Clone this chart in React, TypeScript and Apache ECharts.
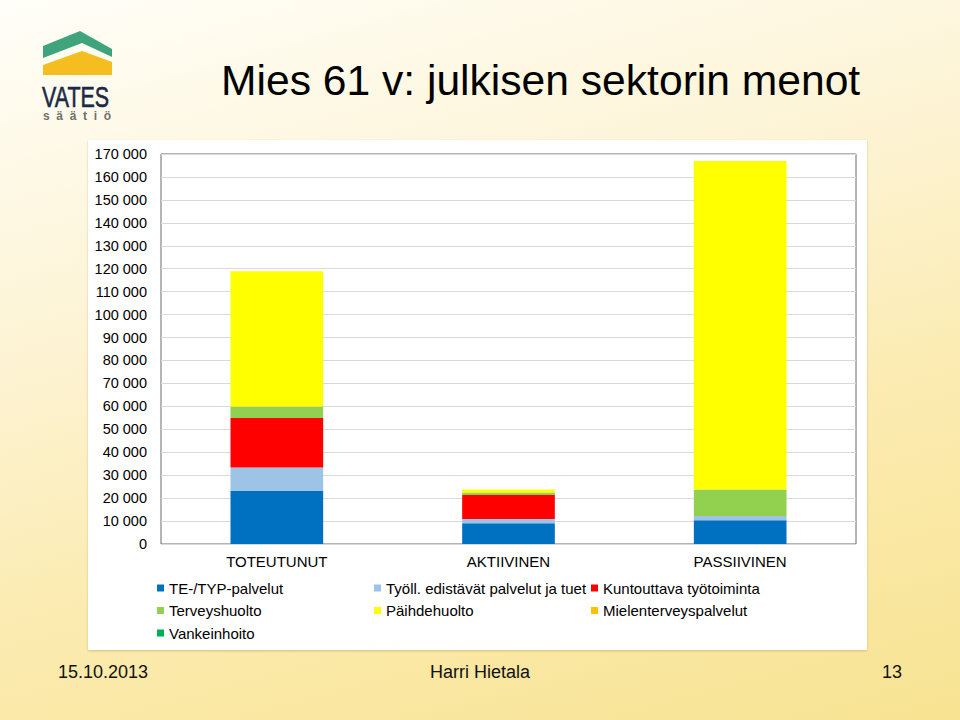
import React, { useEffect, useRef } from "react";
import * as echarts from "echarts";

const categories = ["TOTEUTUNUT", "AKTIIVINEN", "PASSIIVINEN"];
const teTyp = [23100, 9000, 10300];
const tyoll = [10300, 1900, 1900];
const kuntouttava = [21500, 10500, 0];
const terveys = [5000, 1000, 11600];
const paihde = [59000, 1400, 143200];
const mielenterveys = [0, 0, 0];
const vankeinhoito = [0, 0, 0];

const seriesNames = [
  "TE-/TYP-palvelut",
  "Työll. edistävät palvelut ja tuet",
  "Kuntouttava työtoiminta",
  "Terveyshuolto",
  "Päihdehuolto",
  "Mielenterveyspalvelut",
  "Vankeinhoito",
];
const seriesColors = ["#0070C0", "#9DC3E6", "#FF0000", "#92D050", "#FFFF00", "#FFC000", "#00B050"];
const seriesData = [teTyp, tyoll, kuntouttava, terveys, paihde, mielenterveys, vankeinhoito];

const yMin = 0;
const yMax = 170000;
const yStep = 10000;

const titleText = "Mies 61 v: julkisen sektorin menot";
const footerDate = "15.10.2013";
const footerAuthor = "Harri Hietala";
const footerPage = "13";

const FONT = "Liberation Sans, Arial, sans-serif";

export default function App() {
  const ref = useRef<HTMLDivElement>(null);
  useEffect(() => {
    document.body.style.margin = "0";
    const chart = echarts.init(ref.current!, null, { renderer: "svg" });
    const legendCommon = {
      orient: "vertical" as const,
      top: 580,
      itemWidth: 7,
      itemHeight: 7,
      itemGap: 6.5,
      icon: "rect",
      padding: 0,
      selectedMode: false,
      textStyle: { fontSize: 15, lineHeight: 16, color: "#000000", fontFamily: FONT },
    };
    chart.setOption({
      animation: false,
      backgroundColor: "transparent",
      textStyle: { fontFamily: FONT },
      grid: {
        left: 161,
        top: 154,
        width: 695,
        height: 390,
        show: true,
        backgroundColor: "#ffffff",
        borderColor: "#6b6b6b",
        borderWidth: 1,
        containLabel: false,
      },
      legend: [
        { ...legendCommon, left: 157, data: [seriesNames[0], seriesNames[3], seriesNames[6]] },
        { ...legendCommon, left: 374, data: [seriesNames[1], seriesNames[4]] },
        { ...legendCommon, left: 591, data: [seriesNames[2], seriesNames[5]] },
      ],
      xAxis: {
        type: "category",
        data: categories,
        axisLine: { show: false },
        axisTick: { show: false },
        axisLabel: { fontSize: 15, color: "#000000", margin: 10, fontFamily: FONT },
      },
      yAxis: {
        type: "value",
        min: yMin,
        max: yMax,
        interval: yStep,
        axisLine: { show: false },
        axisTick: { show: false },
        splitLine: { lineStyle: { color: "#d9d9d9", width: 1 } },
        axisLabel: {
          fontSize: 14.5,
          color: "#000000",
          margin: 14,
          fontFamily: FONT,
          formatter: (v: number) => String(v).replace(/\B(?=(\d{3})+(?!\d))/g, " "),
        },
      },
      series: seriesNames.map((name, i) => ({
        name,
        type: "bar",
        stack: "total",
        barCategoryGap: "60%",
        itemStyle: { color: seriesColors[i] },
        data: seriesData[i],
      })),
      graphic: [
        {
          type: "polygon",
          shape: { points: [[43, 46], [80, 31], [112, 49], [112, 57], [82, 43], [43, 58]] },
          style: { fill: "#3FA37B" },
        },
        {
          type: "polygon",
          shape: { points: [[43, 65], [82, 51], [112, 62], [112, 75], [43, 75]] },
          style: { fill: "#F5BD1F" },
        },
        {
          type: "text",
          x: 42,
          y: 97,
          scaleX: 0.74,
          style: {
            text: "VATES",
            font: "29px " + FONT,
            fill: "#1B2A47",
            stroke: "#1B2A47",
            lineWidth: 0.6,
            verticalAlign: "middle",
            align: "left",
          },
        },
        {
          type: "text",
          x: 43,
          y: 116,
          style: {
            text: "s  ä  ä  t  i  ö",
            font: "bold 12px " + FONT,
            fill: "#6e6e6e",
            verticalAlign: "middle",
            align: "left",
          },
        },
        {
          type: "text",
          x: 221,
          y: 80,
          style: {
            text: titleText,
            font: "42.6px " + FONT,
            fill: "#000000",
            verticalAlign: "middle",
            align: "left",
          },
        },
        {
          type: "text",
          x: 58,
          y: 672,
          style: { text: footerDate, font: "18px " + FONT, fill: "#111", verticalAlign: "middle", align: "left" },
        },
        {
          type: "text",
          x: 480,
          y: 672,
          style: { text: footerAuthor, font: "18px " + FONT, fill: "#111", verticalAlign: "middle", align: "center" },
        },
        {
          type: "text",
          x: 902,
          y: 672,
          style: { text: footerPage, font: "18px " + FONT, fill: "#111", verticalAlign: "middle", align: "right" },
        },
      ],
    });
    return () => chart.dispose();
  }, []);

  return (
    <div
      style={{
        position: "fixed",
        left: 0,
        top: 0,
        width: 960,
        height: 720,
        background: "linear-gradient(165deg, #FFFEF8 0%, #FDF4D6 35%, #FBEBB0 65%, #F8E392 100%)",
        overflow: "hidden",
      }}
    >
      <div
        style={{
          position: "absolute",
          left: 88,
          top: 140,
          width: 779,
          height: 510,
          background: "#ffffff",
          boxShadow: "0 1px 2px rgba(170,140,80,0.45)",
        }}
      />
      <div ref={ref} style={{ position: "absolute", left: 0, top: 0, width: 960, height: 720 }} />
    </div>
  );
}
